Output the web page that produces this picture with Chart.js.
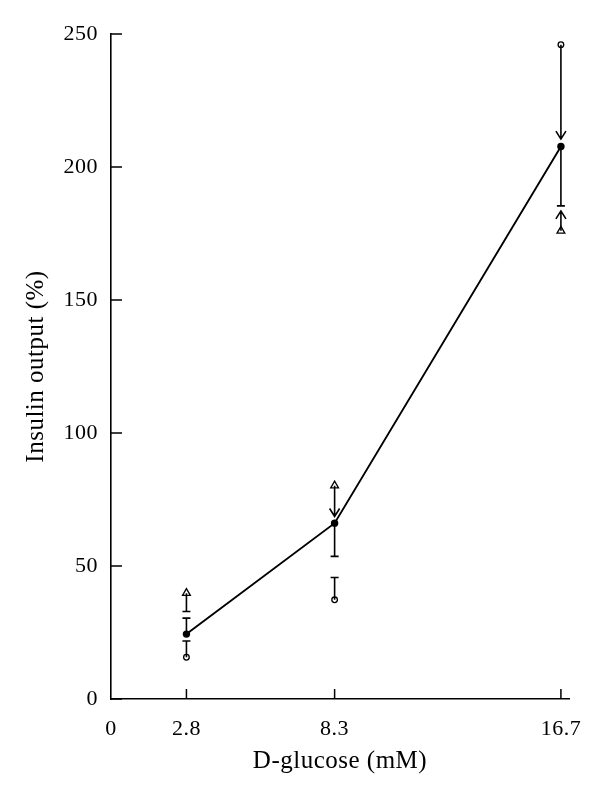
<!DOCTYPE html>
<html lang="en">
<head>
  <title>Insulin output</title>
  <script src="https://cdn.jsdelivr.net/npm/chart.js@4/dist/chart.umd.min.js"></script>
  <style>
    html, body { margin: 0; padding: 0; background: #fff; }
    #wrap { width: 600px; height: 796px; }
  </style>
</head>
<body>
<div id="wrap"><canvas id="mycanvas" width="600" height="796"></canvas></div>
<script>

// glucose concentrations (mM)
const glucose = [2.8, 8.3, 16.7];
const xTickValues = [0, 2.8, 8.3, 16.7];

// filled dots (joined by line) with their error bar end
const meanVals = [24.4, 66.1, 207.7];
const meanErr  = [30.4, 53.6, 185.4];
const meanEnd  = ['cap', 'cap', 'cap'];

// open circles
const circleVals = [15.7, 37.3, 246];
const circleErr  = [21.8, 45.7, 210.5];
const circleEnd  = ['cap', 'cap', 'arrow'];

// open triangles
const triVals = [39.8, 80.2, 176];
const triErr  = [32.9, 68.6, 183.5];
const triEnd  = ['cap', 'arrow', 'arrow'];

const yTickValues = [0, 50, 100, 150, 200, 250];

const FONT = "'Liberation Serif', 'DejaVu Serif', serif";

function pts(vals) {
  return glucose.map((g, i) => ({x: g, y: vals[i]}));
}

// error bars, arrows and inward ticks
const extras = {
  id: 'extras',
  beforeDraw(chart) {
    chart.ctx.letterSpacing = '0.5px'; // original typeface is a bit wider
  },
  afterDatasetsDraw(chart) {
    const ctx = chart.ctx, xs = chart.scales.x, ys = chart.scales.y;
    ctx.save();
    ctx.strokeStyle = '#000';
    ctx.lineWidth = 1.6;
    const groups = [
      [meanVals, meanErr, meanEnd],
      [circleVals, circleErr, circleEnd],
      [triVals, triErr, triEnd]
    ];
    groups.forEach(([vals, errs, ends]) => {
      glucose.forEach((g, i) => {
        const px = xs.getPixelForValue(g);
        const y0 = ys.getPixelForValue(vals[i]);
        const y1 = ys.getPixelForValue(errs[i]);
        ctx.beginPath();
        ctx.moveTo(px, y0);
        ctx.lineTo(px, y1);
        if (ends[i] == 'cap') {
          ctx.moveTo(px - 4, y1);
          ctx.lineTo(px + 4, y1);
        } else {
          const d = (y1 > y0) ? -1 : 1; // arms point back toward the marker
          ctx.moveTo(px - 5, y1 + d * 8);
          ctx.lineTo(px, y1);
          ctx.lineTo(px + 5, y1 + d * 8);
        }
        ctx.stroke();
      });
    });
    // inward ticks
    ctx.lineWidth = 1.5;
    ctx.beginPath();
    glucose.forEach(g => {
      const px = xs.getPixelForValue(g);
      ctx.moveTo(px, xs.top);
      ctx.lineTo(px, xs.top - 10);
    });
    yTickValues.forEach(v => {
      const py = ys.getPixelForValue(v);
      ctx.moveTo(ys.right, py);
      ctx.lineTo(ys.right + 11, py);
    });
    ctx.stroke();
    ctx.restore();
  }
};

var myChart = new Chart(document.getElementById('mycanvas'), {
  type: 'scatter',
  data: {
    datasets: [
      {
        data: pts(meanVals),
        showLine: true,
        borderColor: '#000',
        borderWidth: 1.9,
        backgroundColor: '#000',
        pointRadius: 3.7,
        pointBorderWidth: 0
      },
      {
        data: pts(circleVals),
        borderColor: '#000',
        backgroundColor: '#fff',
        pointStyle: 'circle',
        pointRadius: 2.8,
        pointBorderWidth: 1.3
      },
      {
        data: pts(triVals),
        borderColor: '#000',
        backgroundColor: '#fff',
        pointStyle: 'triangle',
        pointRadius: 4.5,
        pointBorderWidth: 1.3
      }
    ]
  },
  options: {
    responsive: false,
    animation: false,
    layout: { padding: { left: 0, top: 34, right: 31, bottom: 0 } },
    plugins: {
      legend: { display: false },
      tooltip: { enabled: false }
    },
    scales: {
      x: {
        type: 'linear',
        min: 0,
        max: 17,
        afterBuildTicks: s => { s.ticks = xTickValues.map(v => ({value: v})); },
        afterFit: s => { s.height = 97; },
        grid: { display: true, drawOnChartArea: false, drawTicks: false },
        border: { color: '#000', width: 1.6 },
        ticks: {
          color: '#000',
          padding: 17,
          font: { family: FONT, size: 22 },
          autoSkip: false,
          maxRotation: 0,
          callback: v => String(v)
        },
        title: {
          display: true,
          text: 'D-glucose (mM)',
          color: '#000',
          font: { family: FONT, size: 25 },
          padding: { top: 0, bottom: 20 }
        }
      },
      y: {
        min: 0,
        max: 250,
        afterBuildTicks: s => { s.ticks = yTickValues.map(v => ({value: v})); },
        afterFit: s => { s.width = 111; },
        grid: { display: true, drawOnChartArea: false, drawTicks: false },
        border: { color: '#000', width: 1.6 },
        ticks: {
          color: '#000',
          padding: 13,
          font: { family: FONT, size: 22 }
        },
        title: {
          display: true,
          text: 'Insulin output (%)',
          color: '#000',
          font: { family: FONT, size: 25 },
          padding: { top: 21 }
        }
      }
    }
  },
  plugins: [extras]
});
</script>
</body>
</html>
